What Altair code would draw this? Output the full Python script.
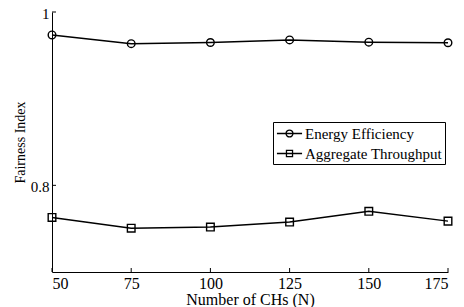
import altair as alt
import pandas as pd

ch_counts = [50, 75, 100, 125, 150, 175]
energy_eff = [0.9735, 0.9635, 0.9648, 0.9678, 0.9652, 0.9645]
agg_thr = [0.7630, 0.7506, 0.7518, 0.7576, 0.7700, 0.7587]
series_names = ["Energy Efficiency", "Aggregate Throughput"]
y_ticks = [0.8, 1.0]

rows = []
for n, e, a in zip(ch_counts, energy_eff, agg_thr):
    rows.append({"N": n, "value": e, "series": series_names[0]})
    rows.append({"N": n, "value": a, "series": series_names[1]})
df = pd.DataFrame(rows)

W, H = 396, 260
FONT = "Liberation Serif"

xs = alt.Scale(domain=[50, 175], nice=False, zero=False)
ys = alt.Scale(domain=[0.7, 1.0], nice=False, zero=False)

x_enc = alt.X("N:Q", scale=xs, axis=alt.Axis(
    values=ch_counts, title="Number of CHs (N)", grid=False, ticks=False,
    labelPadding=3, titlePadding=0, format="d",
    labelFont=FONT, titleFont=FONT, labelFontSize=16, titleFontSize=16,
    labelColor="black", titleColor="black", titleFontWeight="normal",
    domainColor="black", domainWidth=1))
y_enc = alt.Y("value:Q", scale=ys, axis=alt.Axis(
    values=y_ticks, title="Fairness Index", grid=False, ticks=False,
    labelPadding=3, titlePadding=3, labelOffset=1,
    labelExpr="datum.value == 1 ? '1' : format(datum.value, '.1f')",
    labelFont=FONT, titleFont=FONT, labelFontSize=15, titleFontSize=14,
    labelColor="black", titleColor="black", titleFontWeight="normal",
    domainColor="black", domainWidth=1))

base = alt.Chart(df)
lines = base.mark_line(color="black", strokeWidth=1.5).encode(
    x=x_enc, y=y_enc, detail="series:N")

points = base.mark_point(filled=False, color="black", strokeWidth=1.4, size=58, opacity=1).encode(
    x="N:Q", y="value:Q",
    shape=alt.Shape("series:N", scale=alt.Scale(domain=series_names, range=["circle", "square"]), legend=None))

circ = "M-1.45,0H1.45M-0.4,0A0.4,0.4 0 1,1 0.4,0A0.4,0.4 0 1,1 -0.4,0"
sq = "M-1.45,0H1.45M-0.35,-0.35H0.35V0.35H-0.35Z"
legend_layer = base.mark_point(filled=False, color="black", opacity=1).encode(
    x="N:Q", y="value:Q",
    shape=alt.Shape("series:N", scale=alt.Scale(domain=series_names, range=[circ, sq]),
                    legend=alt.Legend(title=None, orient="none", legendX=221, legendY=110,
                                      strokeColor="black", padding=2, fillColor="white",
                                      symbolSize=300, symbolStrokeColor="black", symbolOffset=5,
                                      symbolFillColor="transparent", symbolStrokeWidth=1.3,
                                      labelFont=FONT, labelFontSize=15, labelColor="black",
                                      rowPadding=2, labelOffset=6))
).transform_filter("false")

tick_df = pd.DataFrame({"N": ch_counts})
xticks = alt.Chart(tick_df).mark_rule(color="black", strokeWidth=1).encode(
    x="N:Q", y=alt.value(H), y2=alt.value(H - 4))
ytick_df = pd.DataFrame({"value": y_ticks})
yticks = alt.Chart(ytick_df).mark_rule(color="black", strokeWidth=1).encode(
    y="value:Q", x=alt.value(0), x2=alt.value(4))

chart = alt.layer(lines, points, legend_layer, xticks, yticks).resolve_scale(
    shape="independent"
).properties(
    width=W, height=H,
    autosize=alt.AutoSizeParams(type="none"),
    padding={"left": 44, "top": 4, "right": 8, "bottom": 35},
).configure(
    background="white", font=FONT
).configure_view(stroke=None)

chart.save("out.html", embed_options={"renderer": "svg", "actions": False})
